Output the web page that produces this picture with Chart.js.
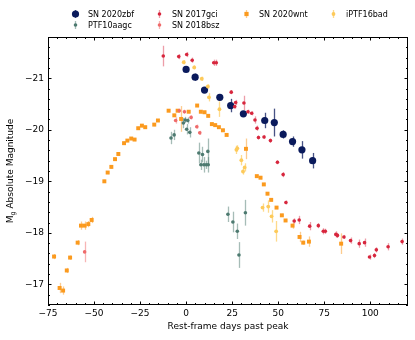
<!DOCTYPE html>
<html lang="en">
<head>
  <meta charset="UTF-8">
  <title>SLSN g-band light curves</title>
  <style>
    html, body { margin: 0; padding: 0; background: #fff; }
    #wrap { width: 415px; height: 340px; }
  </style>
  <script src="https://cdn.jsdelivr.net/npm/chart.js"></script>
</head>
<body>
  <div id="wrap"><canvas id="lc" width="415" height="340"></canvas></div>

  <script>
    // tick labels
    const xTicks = [-75, -50, -25, 0, 25, 50, 75, 100];
    const yTicks = [-21, -20, -19, -18, -17];

    // SN 2020zbf
    const zbfDays = [0, 4.9, 10.0, 18.3, 24.2, 31.1, 42.7, 47.9, 52.7, 57.8, 62.9, 68.7];
    const zbfMag  = [-21.17, -21.02, -20.77, -20.63, -20.47, -20.31, -20.18, -20.14, -19.91, -19.77, -19.61, -19.40];
    const zbfErr  = [0.04, 0.07, 0.04, 0.04, 0.13, 0.05, 0.15, 0.27, 0.08, 0.1, 0.17, 0.15];

    // SN 2017gci
    const gciDays = [-12.4, -4.0, 0.3, 3.3, 15.0, 16.4, 24.5, 26.9, 26.4, 31.4, 33.6, 35.6, 37.4, 38.5, 39.3, 42.3, 45.8,
                     49.6, 52.7, 54.2, 58.7, 61.4, 67.1, 71.8, 74.5, 75.6, 81.3, 82.2, 85.7, 89.3, 94.0, 96.9, 99.6,
                     102.3, 103.3, 109.7, 117.3];
    const gciMag  = [-21.43, -21.42, -21.46, -21.35, -21.30, -21.30, -20.73, -20.53, -20.45, -20.52, -20.35, -20.32, -20.19,
                     -20.03, -19.85, -19.86, -19.79, -19.37, -19.13, -18.59, -18.23, -18.25, -18.13, -18.14, -18.03, -18.03,
                     -17.97, -17.95, -17.92, -17.85, -17.79, -17.81, -17.53, -17.56, -17.67, -17.73, -17.83];
    const gciErr  = [0.2, 0.05, 0.05, 0.05, 0.06, 0.06, 0.04, 0.05, 0.04, 0.14, 0.04, 0.04, 0.07, 0.05, 0.04, 0.04, 0.04,
                     0.04, 0.05, 0.04, 0.05, 0.08, 0.08, 0.05, 0.06, 0.05, 0.06, 0.05, 0.04, 0.06, 0.08, 0.08, 0.05, 0.05,
                     0.05, 0.07, 0.06];

    // SN 2018bsz
    const bszDays = [-55.1, -5.7, -3.7, -0.9, 2.7, 5.8, 7.4];
    const bszMag  = [-17.63, -20.18, -20.37, -20.35, -20.24, -20.06, -19.94];
    const bszErr  = [0.2, 0.06, 0.04, 0.04, 0.04, 0.04, 0.04];

    // SN 2020wnt
    const wntDays = [-71.7, -68.7, -66.8, -64.8, -63.0, -58.9, -57.1, -55.1, -53.1, -51.3, -44.4, -42.6, -40.6, -38.6,
                     -36.8, -33.7, -31.9, -29.8, -28.0, -26.0, -24.0, -22.2, -17.3, -15.3, -9.5, -6.4, -4.6, -2.7, 1.4,
                     6.0, 8.0, 10.0, 12.0, 14.0, 15.8, 17.8, 20.0, 22.0, 32.5, 38.4, 40.4, 42.2, 44.2, 46.2, 49.1, 52.0,
                     54.0, 57.8, 61.6, 63.6, 66.7, 84.2];
    const wntMag  = [-17.54, -16.93, -16.88, -17.27, -17.52, -17.81, -18.14, -18.14, -18.17, -18.25, -19.00, -19.17,
                     -19.28, -19.43, -19.53, -19.74, -19.79, -19.83, -19.81, -20.03, -20.08, -20.05, -20.10, -20.18,
                     -20.37, -20.28, -20.37, -20.21, -20.35, -20.47, -20.35, -20.34, -20.27, -20.11, -20.09, -20.05,
                     -19.99, -19.90, -19.63, -19.10, -19.07, -18.94, -18.76, -18.64, -18.49, -18.34, -18.24, -18.14,
                     -17.92, -17.81, -17.83, -17.79];
    const wntErr  = [0.05, 0.1, 0.08, 0.05, 0.04, 0.05, 0.08, 0.08, 0.06, 0.06, 0.03, 0.03, 0.03, 0.03, 0.03, 0.03, 0.03,
                     0.03, 0.03, 0.03, 0.03, 0.03, 0.03, 0.03, 0.03, 0.03, 0.03, 0.25, 0.03, 0.03, 0.03, 0.03, 0.03, 0.03,
                     0.03, 0.03, 0.03, 0.03, 0.2, 0.03, 0.03, 0.03, 0.03, 0.03, 0.03, 0.03, 0.03, 0.06, 0.1, 0.04, 0.1, 0.2];

    // iPTF16bad
    const badDays = [-1.3, 4.4, 8.5, 11.8, 12.4, 18.1, 27.3, 27.8, 30.0, 31.8, 30.9, 41.5, 44.6, 46.4, 48.9];
    const badMag  = [-21.31, -21.21, -20.99, -20.84, -20.63, -20.40, -19.61, -19.64, -19.41, -19.27, -19.19, -18.49,
                     -18.51, -18.32, -18.03];
    const badErr  = [0.04, 0.04, 0.04, 0.04, 0.08, 0.15, 0.08, 0.06, 0.1, 0.08, 0.06, 0.08, 0.12, 0.12, 0.2];

    // PTF10aagc
    const aagcDays = [-8.2, -6.5, -1.5, -0.5, 0.9, 0.3, 2.0, 6.9, 8.9, 11.8, 8.0, 9.6, 10.9, 12.0, 22.7, 25.4, 27.8, 28.7, 32.2];
    const aagcMag  = [-19.84, -19.90, -20.13, -20.19, -20.18, -20.01, -19.95, -19.55, -19.52, -19.58, -19.32, -19.32,
                      -19.32, -19.32, -18.36, -18.21, -18.03, -17.57, -18.39];
    const aagcErr  = [0.12, 0.1, 0.1, 0.06, 0.06, 0.1, 0.1, 0.2, 0.15, 0.25, 0.1, 0.15, 0.08, 0.15, 0.15, 0.2, 0.15, 0.25, 0.25];

    function pts(days, mags) {
      return days.map((d, i) => ({ x: d, y: mags[i] }));
    }

    const FONT = 'DejaVu Sans';

    // vertical error bars, drawn under the markers
    const errorBars = {
      id: 'errorBars',
      beforeDatasetsDraw(chart) {
        const { ctx, scales: { x, y } } = chart;
        ctx.save();
        ctx.beginPath();
        ctx.rect(chart.chartArea.left, chart.chartArea.top, chart.chartArea.width, chart.chartArea.height);
        ctx.clip();
        chart.data.datasets.slice().sort((a, b) => b.order - a.order).forEach(ds => {
          ctx.strokeStyle = ds.barColor;
          ctx.lineWidth = ds.barWidth;
          ds.data.forEach((p, i) => {
            const px = Math.round(x.getPixelForValue(p.x)) + 0.5;
            ctx.beginPath();
            ctx.moveTo(px, y.getPixelForValue(p.y - ds.errors[i]));
            ctx.lineTo(px, y.getPixelForValue(p.y + ds.errors[i]));
            ctx.stroke();
          });
        });
        ctx.restore();
      }
    };

    // frame, inward ticks on all sides, axis titles, legend
    const frame = {
      id: 'frame',
      afterDraw(chart) {
        const { ctx, chartArea: a, scales: { x, y } } = chart;
        ctx.save();
        ctx.strokeStyle = '#000';
        ctx.lineWidth = 1;
        ctx.strokeRect(Math.round(a.left) + 0.5, Math.round(a.top) + 0.5,
                       Math.round(a.width) - 1, Math.round(a.height) - 1);

        ctx.beginPath();
        for (let d = -75; d <= 120; d += 5) {
          const px = Math.round(x.getPixelForValue(d)) + 0.5;
          const len = d % 25 === 0 ? 3.5 : 2;
          ctx.moveTo(px, a.bottom); ctx.lineTo(px, a.bottom - len);
          ctx.moveTo(px, a.top); ctx.lineTo(px, a.top + len);
        }
        for (let k = -109; k <= -83; k++) {
          const v = k / 5;
          const py = Math.round(y.getPixelForValue(v)) + 0.5;
          const len = k % 5 === 0 ? 3.5 : 2;
          ctx.moveTo(a.left, py); ctx.lineTo(a.left + len, py);
          ctx.moveTo(a.right, py); ctx.lineTo(a.right - len, py);
        }
        ctx.stroke();

        // axis titles
        ctx.fillStyle = '#000';
        ctx.font = '9px "' + FONT + '"';
        ctx.textAlign = 'center';
        ctx.textBaseline = 'middle';
        ctx.fillText('Rest-frame days past peak', (a.left + a.right) / 2, 327);

        ctx.translate(11, (a.top + a.bottom) / 2);
        ctx.rotate(-Math.PI / 2);
        const rest = ' Absolute Magnitude';
        const wM = ctx.measureText('M').width;
        ctx.font = '6.5px "' + FONT + '"';
        const wG = ctx.measureText('g').width;
        ctx.font = '9px "' + FONT + '"';
        const wR = ctx.measureText(rest).width;
        let sx = -(wM + wG + wR) / 2;
        ctx.textAlign = 'left';
        ctx.fillText('M', sx, 0);
        ctx.font = '6.5px "' + FONT + '"';
        ctx.fillText('g', sx + wM, 2.5);
        ctx.font = '9px "' + FONT + '"';
        ctx.fillText(rest, sx + wM + wG, 0);
        ctx.restore();

        // legend
        const slots = [[75, 14], [159, 14], [246, 14], [333, 14], [75, 25], [159, 25]];
        const order = ['SN 2020zbf', 'SN 2017gci', 'SN 2020wnt', 'iPTF16bad', 'PTF10aagc', 'SN 2018bsz'];
        ctx.save();
        ctx.font = '8px "' + FONT + '"';
        ctx.textBaseline = 'middle';
        ctx.textAlign = 'left';
        order.forEach((name, i) => {
          const ds = chart.data.datasets.find(d => d.label === name);
          const [mx, my] = slots[i];
          ctx.strokeStyle = ds.barColor;
          ctx.lineWidth = ds.barWidth;
          ctx.beginPath();
          ctx.moveTo(mx + 0.5, my - 4); ctx.lineTo(mx + 0.5, my + 4);
          ctx.stroke();
          ctx.fillStyle = ds.backgroundColor;
          const r = ds.pointRadius;
          if (ds.pointStyle === 'rect') {
            ctx.fillRect(mx + 0.5 - r * 0.75, my - r * 0.75, r * 1.5, r * 1.5);
          } else {
            ctx.beginPath();
            ctx.arc(mx + 0.5, my, r, 0, Math.PI * 2);
            ctx.fill();
          }
          ctx.fillStyle = '#000';
          ctx.fillText(name, mx + 13, my + 0.5);
        });
        ctx.restore();
      }
    };

    function series(label, days, mags, errs, color, barColor, style, radius, order) {
      return {
        label: label,
        data: pts(days, mags),
        errors: errs,
        backgroundColor: color,
        borderColor: color,
        borderWidth: 0,
        barColor: barColor,
        barWidth: 1.3,
        pointStyle: style,
        pointRadius: radius,
        pointHoverRadius: radius,
        order: order
      };
    }

    new Chart(document.getElementById('lc').getContext('2d'), {
      type: 'scatter',
      data: {
        datasets: [
          series('SN 2020zbf', zbfDays, zbfMag, zbfErr, '#0a1a5c', 'rgba(10,26,92,0.75)', 'circle', 3.6, 6),
          series('SN 2017gci', gciDays, gciMag, gciErr, '#d7263d', 'rgba(215,38,61,0.45)', 'circle', 1.8, 4),
          series('SN 2020wnt', wntDays, wntMag, wntErr, '#fb9a1e', 'rgba(251,154,30,0.5)', 'rect', 2.8, 5),
          series('iPTF16bad', badDays, badMag, badErr, '#fdca5a', 'rgba(253,202,90,0.7)', 'circle', 1.9, 1),
          series('PTF10aagc', aagcDays, aagcMag, aagcErr, '#4d7a70', 'rgba(77,122,112,0.5)', 'circle', 1.8, 2),
          series('SN 2018bsz', bszDays, bszMag, bszErr, '#ef6b6b', 'rgba(239,107,107,0.5)', 'circle', 1.8, 3)
        ]
      },
      options: {
        responsive: false,
        animation: false,
        devicePixelRatio: 1,
        layout: { padding: { left: 0, top: 37, right: 7, bottom: 0 } },
        plugins: {
          legend: { display: false },
          tooltip: { enabled: false }
        },
        scales: {
          x: {
            type: 'linear',
            min: -75,
            max: 120.5,
            grid: { display: false, drawTicks: false },
            border: { display: false },
            afterBuildTicks: axis => { axis.ticks = xTicks.map(v => ({ value: v })); },
            afterFit: axis => { axis.height = 35; },
            ticks: {
              padding: 3,
              color: '#000',
              font: { family: FONT, size: 9 },
              maxRotation: 0,
              callback: v => v < 0 ? '\u2212' + Math.abs(v) : String(v)
            }
          },
          y: {
            type: 'linear',
            reverse: true,
            min: -21.8,
            max: -16.6,
            grid: { display: false, drawTicks: false },
            border: { display: false },
            afterBuildTicks: axis => { axis.ticks = yTicks.map(v => ({ value: v })); },
            afterFit: axis => { axis.width = 48; },
            ticks: {
              padding: 4,
              color: '#000',
              font: { family: FONT, size: 9 },
              callback: v => v < 0 ? '\u2212' + Math.abs(v) : String(v)
            }
          }
        }
      },
      plugins: [errorBars, frame]
    });
  </script>
</body>
</html>
